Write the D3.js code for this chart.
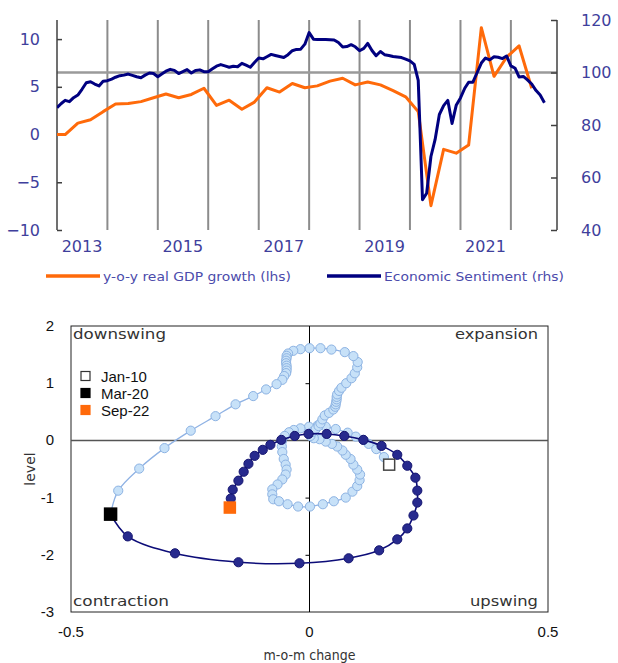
<!DOCTYPE html>
<html><head><meta charset="utf-8">
<script src="https://cdn.jsdelivr.net/npm/d3@7"></script>
<style>
body{margin:0;background:#fff;}
svg{display:block;}
</style></head>
<body>
<svg id="c" width="618" height="663"></svg>
<script>
// ---------- Top chart data ----------
const esiStart = [2013, 0]; // Jan 2013, monthly
const esiValues = [
 86.6, 88.2, 89.4, 88.9, 90.4, 91.4, 93.6, 96.1, 96.5, 95.6, 94.9, 96.7,
 96.9, 97.5, 98.2, 98.8, 99.0, 99.4, 98.9, 98.4, 98.0, 99.0, 99.8, 99.6,
 98.4, 99.5, 100.5, 101.2, 100.8, 99.6, 100.3, 101.1, 99.8, 100.8, 101.0, 100.3,
 100.3, 101.4, 102.4, 103.0, 102.5, 102.0, 102.4, 102.2, 103.5, 102.8, 102.0, 103.8,
 105.5, 105.2, 106.0, 106.9, 106.5, 106.1, 105.7, 106.8, 108.3, 108.8, 108.9, 110.8,
 115.2, 112.7, 112.6, 112.6, 112.6, 112.5, 112.4, 111.4, 109.7, 109.9, 110.6, 109.8,
 108.3, 109.2, 111.1, 108.4, 106.4, 108.0, 106.8, 106.5, 106.1, 105.9, 105.7, 105.1,
 104.4, 103.1, 97.0, 51.5, 54.0, 68.0, 74.4, 84.0, 87.4, 89.4, 80.6, 87.5,
 90.3, 94.0, 96.3, 96.3, 99.9, 103.6, 105.5, 104.8, 106.0, 105.8, 105.3, 106.3,
 102.5, 101.6, 98.3, 98.5, 97.2, 95.6, 93.2, 91.4, 88.5
];
const gdpStart = [2012, 11]; // Dec 2012 (Q4 2012), quarterly at quarter-end months
const gdpValues = [
 0.0, 0.0, 1.2, 1.55, 2.4,
 3.2, 3.25, 3.45, 3.85,
 4.25, 3.85, 4.2, 4.85,
 3.05, 3.6, 2.65, 3.4,
 4.9, 4.45, 5.35, 4.9,
 5.1, 5.6, 5.9, 5.2,
 5.5, 5.2, 4.6, 3.95,
 2.4, -7.45, -1.55, -1.95,
 -1.1, 11.2, 6.1, 8.1,
 9.3, 4.85
];
const leftTicks = [-10, -5, 0, 5, 10];
const rightTicks = [40, 60, 80, 100, 120];
const yearLabels = [2013, 2015, 2017, 2019, 2021];
const gridYears = [2014, 2015, 2016, 2017, 2018, 2019, 2020, 2021, 2022];
const legendTop = ["y-o-y real GDP growth (lhs)", "Economic Sentiment (rhs)"];

// ---------- Bottom chart data ----------
const lightX = [0.167,0.156,0.140,0.124,0.113,0.097,0.080,0.055,0.034,0.017,
 -0.001,-0.019,-0.033,-0.043,-0.052,-0.058,-0.058,-0.057,-0.054,-0.050,
 -0.048,-0.050,-0.057,-0.067,-0.078,-0.078,-0.076,-0.064,-0.046,-0.024,
 0.001,0.028,0.051,0.076,0.090,0.100,0.105,0.106,0.100,0.092,
 0.086,0.076,0.069,0.058,0.047,0.034,0.021,0.009,0.002,0.006,
 0.013,0.019,0.023,0.027,0.032,0.041,0.050,0.054,0.055,0.056,
 0.057,0.057,0.058,0.062,0.067,0.077,0.088,0.095,0.100,0.101,
 0.092,0.074,0.046,0.023,0.000,-0.019,-0.034,-0.045,-0.048,-0.048,
 -0.049,-0.049,-0.048,-0.048,-0.048,-0.049,-0.053,-0.057,-0.069,-0.091,
 -0.118,-0.155,-0.197,-0.249,-0.304,-0.357,-0.401,-0.417];
const lightY = [-0.424,-0.291,-0.152,-0.061,0.009,0.066,0.135,0.199,0.239,0.260,
 0.239,0.211,0.182,0.142,0.078,-0.017,-0.107,-0.204,-0.325,-0.424,
 -0.510,-0.597,-0.683,-0.770,-0.856,-0.943,-1.029,-1.064,-1.116,-1.156,
 -1.156,-1.116,-1.064,-1.000,-0.896,-0.799,-0.696,-0.597,-0.510,-0.424,
 -0.325,-0.251,-0.176,-0.107,-0.061,-0.021,0.021,0.038,0.078,0.147,
 0.199,0.251,0.298,0.367,0.436,0.481,0.540,0.588,0.631,0.675,
 0.718,0.761,0.805,0.865,0.920,1.000,1.087,1.173,1.277,1.370,
 1.474,1.543,1.588,1.612,1.612,1.595,1.566,1.519,1.479,1.436,
 1.393,1.349,1.306,1.263,1.220,1.176,1.125,1.059,0.983,0.891,
 0.775,0.631,0.424,0.170,-0.135,-0.493,-0.879,-1.289];
const darkX = [-0.417,-0.381,-0.282,-0.149,-0.021,0.082,0.146,0.184,0.205,0.218,
 0.226,0.226,0.222,0.205,0.184,0.151,0.113,0.073,0.036,-0.002,
 -0.031,-0.059,-0.082,-0.098,-0.115,-0.128,-0.138,-0.149,-0.161,-0.165,-0.167];
const darkY = [-1.289,-1.678,-1.974,-2.130,-2.148,-2.061,-1.922,-1.730,-1.539,-1.313,
 -1.087,-0.878,-0.652,-0.443,-0.252,-0.096,0.009,0.078,0.113,0.113,
 0.078,0.009,-0.078,-0.165,-0.270,-0.409,-0.548,-0.704,-0.861,-1.017,-1.174];
const markerLabels = ["Jan-10", "Mar-20", "Sep-22"];
const quadrantLabels = ["downswing", "expansion", "contraction", "upswing"];
const xTicksB = [-0.5, 0, 0.5];
const yTicksB = [2, 1, 0, -1, -2, -3];

// ---------- Drawing ----------
const svg = d3.select("#c");
const GOTHIC = "'DejaVu Sans', sans-serif";
const ARIAL = "'Liberation Sans', Arial, sans-serif";
const BLUE_TXT = "#3f3f9c";

// Top chart scales
const xT = d3.scaleTime().domain([new Date(2013,0,1), new Date(2022,11,1)]).range([57,557]);
const yL = d3.scaleLinear().domain([-10,12]).range([230,20]);
const yR = d3.scaleLinear().domain([40,120]).range([230,20]);

const topG = svg.append("g");
topG.append("defs").append("clipPath").attr("id","clipT")
  .append("rect").attr("x",57).attr("y",15).attr("width",500).attr("height",220);

// vertical grid
topG.selectAll("line.vg").data(gridYears).join("line")
  .attr("x1", d=>xT(new Date(d,0,1))).attr("x2", d=>xT(new Date(d,0,1)))
  .attr("y1", 20).attr("y2", 230).attr("stroke","#8c8c8c").attr("stroke-width",2);
// horizontal reference at 100
topG.append("line").attr("x1",57).attr("x2",557).attr("y1",yR(100)).attr("y2",yR(100))
  .attr("stroke","#9a9a9a").attr("stroke-width",2.5);

// axes
const axL = topG.append("g").attr("transform","translate(57,0)")
  .call(d3.axisLeft(yL).tickValues(leftTicks).tickSizeInner(-5).tickSizeOuter(0).tickPadding(17));
const axR = topG.append("g").attr("transform","translate(557,0)")
  .call(d3.axisRight(yR).tickValues(rightTicks).tickSizeInner(-6).tickSizeOuter(0).tickPadding(24));
[axL, axR].forEach(a=>{
  a.select(".domain").attr("stroke","#404040").attr("stroke-width",1.5);
  a.selectAll(".tick line").attr("stroke","#404040").attr("stroke-width",1.5);
  a.selectAll(".tick text").attr("fill",BLUE_TXT).style("font-family",GOTHIC).style("font-size","16px");
});
axL.select(".domain").attr("d","M0,230V20");
axR.select(".domain").attr("d","M0,230V20");

// year labels
topG.selectAll("text.yr").data(yearLabels).join("text")
  .attr("x", d=>xT(new Date(d,6,1))).attr("y", 252)
  .attr("text-anchor","middle").attr("fill",BLUE_TXT)
  .style("font-family",GOTHIC).style("font-size","16px").text(d=>d);

// lines
const esiData = esiValues.map((v,i)=>({d:new Date(esiStart[0], esiStart[1]+i, 1), v}));
const gdpData = gdpValues.map((v,i)=>({d:new Date(gdpStart[0], gdpStart[1]+3*i, 1), v}));
const lineG = topG.append("g").attr("clip-path","url(#clipT)");
lineG.append("path").datum(gdpData)
  .attr("d", d3.line().x(d=>xT(d.d)).y(d=>yL(d.v)))
  .attr("fill","none").attr("stroke","#ff6a0a").attr("stroke-width",3).attr("stroke-linejoin","round");
lineG.append("path").datum(esiData)
  .attr("d", d3.line().x(d=>xT(d.d)).y(d=>yR(d.v)))
  .attr("fill","none").attr("stroke","#000080").attr("stroke-width",3).attr("stroke-linejoin","round");

// top legend
const legT = topG.append("g");
const legItems = [{x:46, c:"#ff6a0a", t:legendTop[0], w:188},{x:327, c:"#000080", t:legendTop[1], w:180}];
legItems.forEach(it=>{
  legT.append("line").attr("x1",it.x).attr("x2",it.x+54).attr("y1",276).attr("y2",276)
    .attr("stroke",it.c).attr("stroke-width",3.5);
  legT.append("text").attr("x",it.x+57).attr("y",281).attr("fill","#4b4bab")
    .style("font-family",GOTHIC).style("font-size","13px")
    .attr("textLength",it.w).attr("lengthAdjust","spacingAndGlyphs").text(it.t);
});

// ---------- Bottom chart ----------
const xB = d3.scaleLinear().domain([-0.5,0.5]).range([71,548]);
const yB = d3.scaleLinear().domain([-3,2]).range([612,326]);
const bot = svg.append("g");

bot.append("rect").attr("x",xB(-0.5)).attr("y",yB(2)).attr("width",xB(0.5)-xB(-0.5)).attr("height",yB(-3)-yB(2))
  .attr("fill","none").attr("stroke","#222").attr("stroke-width",1);
bot.append("line").attr("x1",xB(-0.5)).attr("x2",xB(0.5)).attr("y1",yB(0)).attr("y2",yB(0))
  .attr("stroke","#555").attr("stroke-width",1.5);
const axZ = bot.append("g").attr("transform",`translate(${xB(0)},0)`)
  .call(d3.axisLeft(yB).tickValues([1,-1,-2]).tickSizeInner(4).tickSizeOuter(0).tickFormat(""));
axZ.select(".domain").attr("d",`M0,${yB(-3)}V${yB(2)}`).attr("stroke","#000").attr("stroke-width",1);
axZ.selectAll(".tick line").attr("stroke","#000");

// tick labels
bot.selectAll("text.yt").data(yTicksB).join("text")
  .attr("x",54).attr("y",d=>yB(d)+5).attr("text-anchor","end")
  .style("font-family",ARIAL).style("font-size","15px").attr("fill","#111").text(d=>d);
bot.selectAll("text.xt").data(xTicksB).join("text")
  .attr("x",d=>xB(d)).attr("y",637).attr("text-anchor","middle")
  .style("font-family",ARIAL).style("font-size","15px").attr("fill","#111").text(d=>d);
bot.append("text").attr("x",xB(0)).attr("y",660).attr("text-anchor","middle")
  .style("font-family",GOTHIC).style("font-size","14px").attr("fill","#333")
  .attr("textLength",92).attr("lengthAdjust","spacingAndGlyphs").text("m-o-m change");
bot.append("text").attr("transform",`translate(35,${yB(-0.5)}) rotate(-90)`).attr("text-anchor","middle")
  .style("font-family",GOTHIC).style("font-size","14px").attr("fill","#333").text("level");

// quadrant labels
const ql = [
  {t:quadrantLabels[0], x:xB(-0.5)+2, y:yB(2)+13, a:"start", w:93},
  {t:quadrantLabels[1], x:xB(0.5)-10, y:yB(2)+13, a:"end", w:83},
  {t:quadrantLabels[2], x:xB(-0.5)+2, y:yB(-3)-6, a:"start", w:96},
  {t:quadrantLabels[3], x:xB(0.5)-10, y:yB(-3)-6, a:"end", w:68}
];
bot.selectAll("text.q").data(ql).join("text")
  .attr("x",d=>d.x).attr("y",d=>d.y).attr("text-anchor",d=>d.a)
  .attr("textLength",d=>d.w).attr("lengthAdjust","spacingAndGlyphs")
  .style("font-family",GOTHIC).style("font-size","14px").attr("fill","#333").text(d=>d.t);

// series
const lightPts = lightX.map((x,i)=>({x, y:lightY[i]}));
const darkPts = darkX.map((x,i)=>({x, y:darkY[i]}));
const lineB = d3.line().x(d=>xB(d.x)).y(d=>yB(d.y)).curve(d3.curveCatmullRom.alpha(0.5));
bot.append("path").datum(lightPts).attr("d",lineB).attr("fill","none")
  .attr("stroke","#8fb2e4").attr("stroke-width",1.3);
bot.selectAll("circle.l").data(lightPts.slice(1,-1)).join("circle")
  .attr("cx",d=>xB(d.x)).attr("cy",d=>yB(d.y)).attr("r",4.6)
  .attr("fill","#c7e1f8").attr("stroke","#8db3e3").attr("stroke-width",1);
bot.append("path").datum(darkPts).attr("d",lineB).attr("fill","none")
  .attr("stroke","#0c0c78").attr("stroke-width",1.6);
bot.selectAll("circle.d").data(darkPts.slice(1,-1)).join("circle")
  .attr("cx",d=>xB(d.x)).attr("cy",d=>yB(d.y)).attr("r",4.6)
  .attr("fill","#272a8e").attr("stroke","#151570").attr("stroke-width",1);

// special markers
const specials = [
  {p:lightPts[0], fill:"#fff", stroke:"#444", s:11},
  {p:darkPts[0], fill:"#000", stroke:"#000", s:12},
  {p:darkPts[darkPts.length-1], fill:"#ff6a0a", stroke:"#ff6a0a", s:11}
];
specials.forEach(m=>{
  bot.append("rect").attr("x",xB(m.p.x)-m.s/2).attr("y",yB(m.p.y)-m.s/2)
    .attr("width",m.s).attr("height",m.s).attr("fill",m.fill).attr("stroke",m.stroke).attr("stroke-width",1.5);
});

// legend bottom
markerLabels.forEach((t,i)=>{
  const cy = 376 + i*17;
  const sp = specials[i];
  bot.append("rect").attr("x",81).attr("y",cy-4.5).attr("width",9).attr("height",9)
    .attr("fill",sp.fill).attr("stroke",i===0?"#333":sp.stroke).attr("stroke-width",1.2);
  bot.append("text").attr("x",101).attr("y",cy+5.5).style("font-family",ARIAL).style("font-size","15px")
    .attr("fill","#111").text(t);
});
</script>
</body></html>
